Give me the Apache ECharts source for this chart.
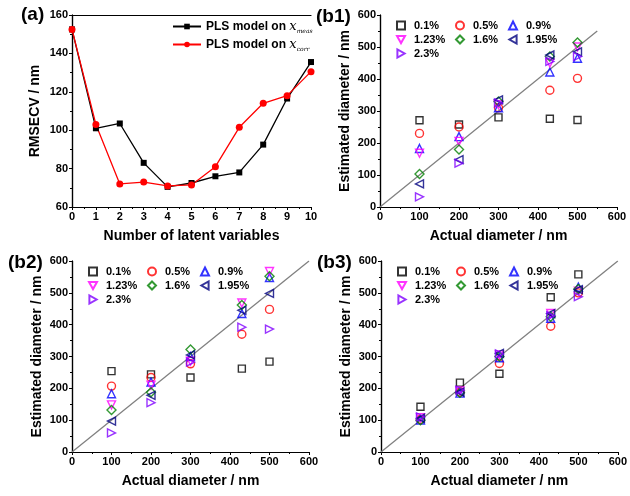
<!DOCTYPE html>
<html><head><meta charset="utf-8">
<script src="https://cdn.jsdelivr.net/npm/echarts@6/dist/echarts.min.js"></script>
<style>html,body{margin:0;padding:0;background:#fff}#c{width:630px;height:496px}</style>
</head><body><div id="c"></div>
<script>
// Panel (a)
const latentVars = [0,1,2,3,4,5,6,7,8,9,10];
const rmsecvMeas = [152.5,101,103.5,83,70.5,72.5,76,78,92.5,116.5,135.5];
const rmsecvCorr = [152.5,103,72,73,71,71.5,81,101.5,114,118,130.5];

// Panels (b)
const actualDiam = [100,200,300,430,500];
const levels = ['0.1%','0.5%','0.9%','1.23%','1.6%','1.95%','2.3%'];
const b1 = {
  '0.1%':  [271,258,280,276,272],
  '0.5%':  [230,250,310,365,402],
  '0.9%':  [183,220,310,422,465],
  '1.23%': [168,205,320,450,500],
  '1.6%':  [103,180,330,470,514],
  '1.95%': [72,148,335,475,485],
  '2.3%':  [32,137,325,455,470]
};
const b2 = {
  '0.1%':  [254,244,234,262,284],
  '0.5%':  [207,234,277,370,448],
  '0.9%':  [183,220,300,435,548],
  '1.23%': [148,210,285,468,567],
  '1.6%':  [132,188,322,462,552],
  '1.95%': [97,178,305,445,498],
  '2.3%':  [60,155,282,392,386]
};
const b3 = {
  '0.1%':  [142,218,246,486,558],
  '0.5%':  [102,188,278,395,500],
  '0.9%':  [100,185,296,420,518],
  '1.23%': [108,192,305,435,505],
  '1.6%':  [100,186,300,425,512],
  '1.95%': [106,188,310,435,510],
  '2.3%':  [110,194,308,428,488]
};
const diagEnd = [550,600,600];

const colors = {'0.1%':'#000000','0.5%':'#ff0000','0.9%':'#0000ff','1.23%':'#ff00ff','1.6%':'#008000','1.95%':'#000080','2.3%':'#8000ff'};
const symbols = {
  '0.1%':'rect','0.5%':'circle','0.9%':'triangle',
  '1.23%':'path://M0,0 L10,0 L5,9 Z',
  '1.6%':'diamond',
  '1.95%':'path://M9,0 L9,10 L0,5 Z',
  '2.3%':'path://M0,0 L0,10 L9,5 Z'
};
const sizes = {'0.1%':7,'0.5%':8,'0.9%':8,'1.23%':8,'1.6%':9,'1.95%':8,'2.3%':8};

const FONT = 'Liberation Sans, Arial, sans-serif';
const grids = [
  {left:72, top:15, width:239, height:192},
  {left:380, top:15, width:237, height:192},
  {left:72, top:261, width:237, height:191},
  {left:381, top:261, width:238, height:191}
];

function axisBase(){
  return {
    axisLine:{show:true,onZero:false,lineStyle:{color:'#000',width:1.2}},
    axisTick:{show:true,inside:false,length:3,lineStyle:{color:'#000'}},
    minorTick:{show:true,splitNumber:2,length:2,lineStyle:{color:'#000'}},
    splitLine:{show:false},
    axisLabel:{color:'#000',fontFamily:FONT,fontWeight:'bold',fontSize:11,margin:4},
    nameTextStyle:{color:'#000',fontFamily:FONT,fontWeight:'bold',fontSize:14},
    nameLocation:'middle'
  };
}

const xAxis = [], yAxis = [], series = [], legend = [];
xAxis.push(Object.assign(axisBase(),{gridIndex:0,type:'value',min:0,max:10,interval:1,name:'Number of latent variables',nameGap:22}));
yAxis.push(Object.assign(axisBase(),{gridIndex:0,type:'value',min:60,max:160,interval:20,name:'RMSECV / nm',nameGap:30}));
xAxis.push({gridIndex:0,type:'value',min:0,max:10,position:'top',axisLine:{show:true,lineStyle:{color:'#000',width:1.2}},axisTick:{show:false},axisLabel:{show:false},splitLine:{show:false}});
yAxis.push({gridIndex:0,type:'value',min:60,max:160,position:'right',axisLine:{show:true,lineStyle:{color:'#000',width:1.2}},axisTick:{show:false},axisLabel:{show:false},splitLine:{show:false}});

series.push({name:'meas',type:'line',xAxisIndex:0,yAxisIndex:0,data:latentVars.map((x,i)=>[x,rmsecvMeas[i]]),
  symbol:'rect',symbolSize:6,itemStyle:{color:'#000'},lineStyle:{color:'#000',width:1.3}});
series.push({name:'corr',type:'line',xAxisIndex:0,yAxisIndex:0,data:latentVars.map((x,i)=>[x,rmsecvCorr[i]]),
  symbol:'circle',symbolSize:7,itemStyle:{color:'#ff0000'},lineStyle:{color:'#ff0000',width:1.3}});

legend.push({data:['meas','corr'],orient:'vertical',left:167,top:15,itemWidth:28,itemHeight:7,itemGap:4,
  formatter:function(n){return n==='meas'?'{t|PLS model on }{x|x}{s|meas}':'{t|PLS model on }{x|x}{s|corr}';},
  textStyle:{rich:{
    t:{fontFamily:FONT,fontWeight:'bold',fontSize:12,color:'#000'},
    x:{fontFamily:'DejaVu Serif, serif',fontStyle:'italic',fontSize:13,color:'#000'},
    s:{fontFamily:'DejaVu Serif, serif',fontStyle:'italic',fontSize:6,color:'#000',verticalAlign:'bottom',padding:[9,0,0,0]}
  }}});

const bData = [b1,b2,b3];
for(let p=0;p<3;p++){
  const g = p+1;
  const xi = xAxis.length, yi = yAxis.length;
  xAxis.push(Object.assign(axisBase(),{gridIndex:g,type:'value',min:0,max:600,interval:100,name:'Actual diameter / nm',nameGap:22}));
  yAxis.push(Object.assign(axisBase(),{gridIndex:g,type:'value',min:0,max:600,interval:100,name:'Estimated diameter / nm',nameGap:28}));
  xAxis.push({gridIndex:g,type:'value',min:0,max:600,position:'top',axisLine:{show:true,lineStyle:{color:'#000',width:1.2}},axisTick:{show:false},axisLabel:{show:false},splitLine:{show:false}});
  yAxis.push({gridIndex:g,type:'value',min:0,max:600,position:'right',axisLine:{show:true,lineStyle:{color:'#000',width:1.2}},axisTick:{show:false},axisLabel:{show:false},splitLine:{show:false}});
  series.push({type:'line',xAxisIndex:xi,yAxisIndex:yi,data:[[0,0],[diagEnd[p],diagEnd[p]]],symbol:'none',silent:true,
    lineStyle:{color:'#808080',width:1.3},z:1});
  levels.forEach(l=>{
    series.push({name:l,type:'scatter',xAxisIndex:xi,yAxisIndex:yi,
      data:actualDiam.map((x,i)=>[x,bData[p][l][i]]),
      symbol:symbols[l],symbolSize:sizes[l],
      itemStyle:{color:'rgba(255,255,255,0)',borderColor:colors[l],borderWidth:1.4},z:3});
  });
  const gl = grids[g];
  const cols = [['0.1%','1.23%','2.3%'],['0.5%','1.6%'],['0.9%','1.95%']];
  const colX = [11, 70, 123];
  cols.forEach((c,ci)=>{
    legend.push({data:c,orient:'vertical',left:gl.left+colX[ci],top:gl.top,itemWidth:8,itemHeight:8,itemGap:3,
      textStyle:{fontFamily:FONT,fontWeight:'bold',fontSize:11,color:'#000',padding:[0,0,0,4]}});
  });
}

const titles = [
  {text:'(a)',left:16,top:0},
  {text:'(b1)',left:311,top:2},
  {text:'(b2)',left:3,top:248},
  {text:'(b3)',left:312,top:248}
].map(t=>Object.assign(t,{textStyle:{fontFamily:FONT,fontWeight:'bold',fontSize:19,color:'#000'}}));

const chart = echarts.init(document.getElementById('c'),null,{renderer:'canvas'});
chart.setOption({
  animation:false,
  backgroundColor:'#fff',
  title:titles,
  grid:grids,
  xAxis:xAxis,
  yAxis:yAxis,
  legend:legend,
  series:series
});
</script></body></html>
